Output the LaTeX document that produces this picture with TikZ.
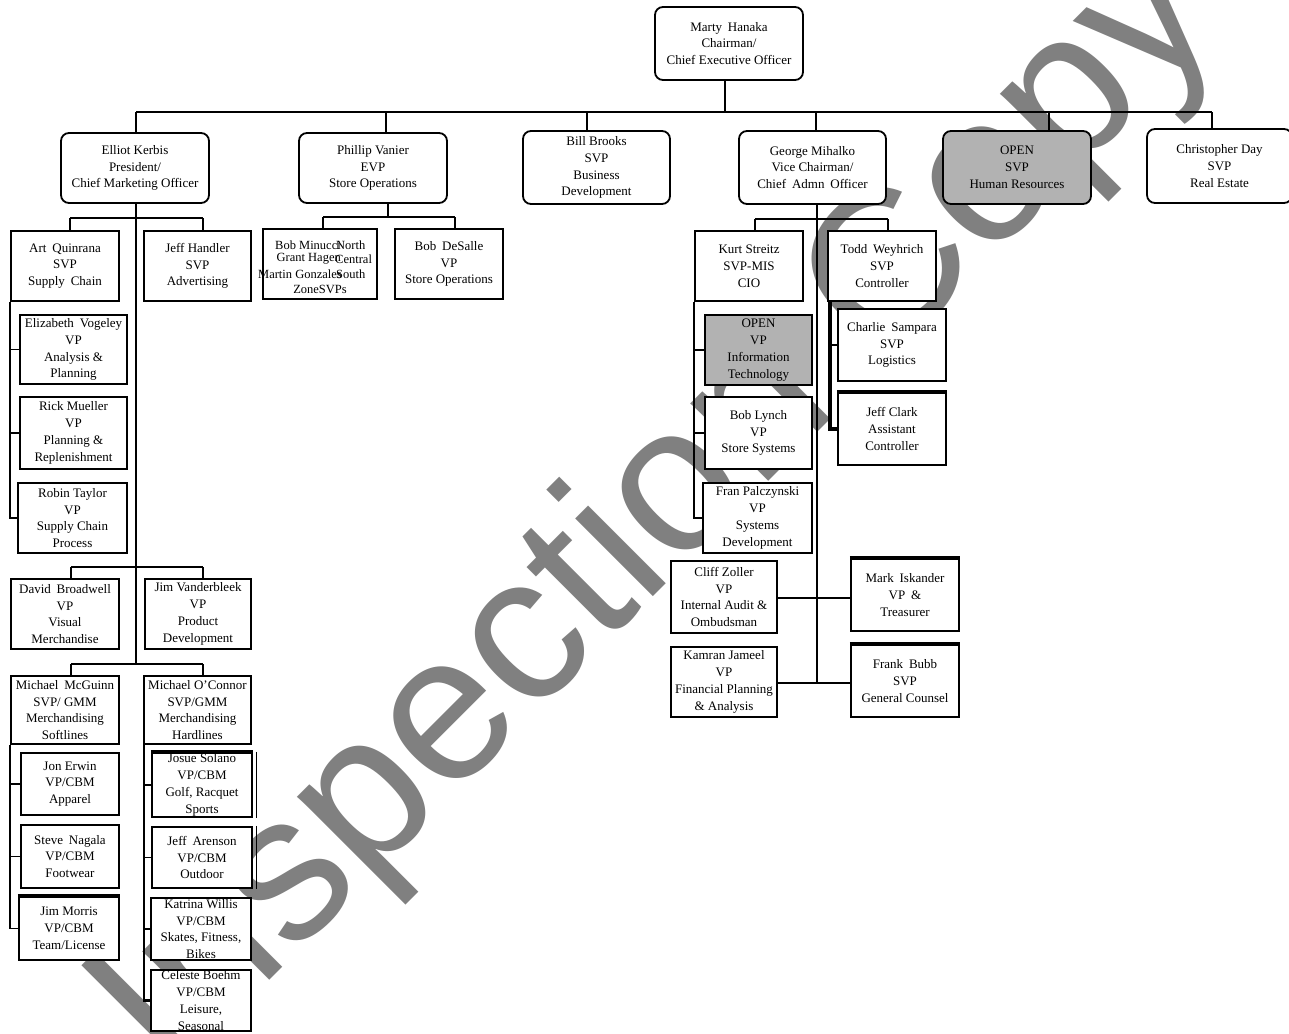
\documentclass[tikz,border=0pt]{standalone}
\usepackage{fontspec}
\setmainfont{Liberation Serif}
\newfontfamily\wmfamily{Liberation Sans}
\definecolor{wmgray}{RGB}{128,128,128}
\definecolor{boxgray}{RGB}{178,178,178}
\newcommand\dsp{\hskip0.45em\relax}
\begin{document}
\begin{tikzpicture}[x=1pt,y=-1pt,
  txt/.style={font=\fontsize{13}{16.8}\selectfont, align=center, inner sep=0pt},
  rbox/.style={txt, draw, line width=1.8pt, rounded corners=8pt, fill=white},
  sbox/.style={txt, draw, line width=2.2pt, fill=white},
  grayfill/.style={fill=boxgray},
  conn/.style={line width=1.6pt},
  thickconn/.style={line width=2.8pt},
  small/.style={font=\fontsize{12.5}{14.5}\selectfont, inner sep=0pt}]
\useasboundingbox (0,0) rectangle (1289,1033);
\fill[white] (0,0) rectangle (1289,1033);

% watermark
\node[rotate=45, text=wmgray, inner sep=0pt, font=\wmfamily\fontsize{208}{208}\selectfont] (wm) at (659,515) {Inspection Copy};

% ---------- nodes (boxes) ----------
\node[rbox, minimum width=148, minimum height=73] (marty) at (729,43.5) {Marty\dsp Hanaka\\Chairman/\\Chief Executive Officer};

\node[rbox, minimum width=148, minimum height=70, yshift=0pt] (elliot) at (135,168) {Elliot Kerbis\\President/\\Chief Marketing Officer};
\node[rbox, minimum width=148, minimum height=70] (vanier) at (373,168) {Phillip Vanier\\EVP\\Store Operations};
\node[rbox, minimum width=147, minimum height=73] (brooks) at (596.5,167.5) {Bill Brooks\\SVP\\Business\\Development};
\node[rbox, minimum width=147, minimum height=73] (mihalko) at (812.5,167.5) {George Mihalko\\Vice Chairman/\\Chief\dsp Admn\dsp Officer};
\node[rbox, grayfill, minimum width=148, minimum height=73] (openhr) at (1017,167.5) {OPEN\\SVP\\Human Resources};
\node[rbox, minimum width=145, minimum height=74] (chris) at (1219.5,166) {Christopher Day\\SVP\\Real Estate};

% ---------- connectors ----------
\coordinate (b0) at (725,112);
\coordinate (d1) at (136,112);
\coordinate (d2) at (386,112);
\coordinate (d3) at (587,112);
\coordinate (d4) at (816,112);
\coordinate (d5) at (1049,112);
\coordinate (d6) at (1212,112);
\draw[conn] (marty.south -| b0) -- (b0);
\draw[conn] (d1) -- (d6);
\draw[conn] (d1) -- (d1 |- elliot.north);
\draw[conn] (d2) -- (d2 |- vanier.north);
\draw[conn] (d3) -- (d3 |- brooks.north);
\draw[conn] (d4) -- (d4 |- mihalko.north);
\draw[conn] (d5) -- (d5 |- openhr.north);
\draw[conn] (d6) -- (d6 |- chris.north);

% Elliot subtree spine and buses
\coordinate (e1) at (136,218);
\coordinate (e1L) at (70,218);
\coordinate (e1R) at (203,218);
\coordinate (e2L) at (71,567);
\coordinate (e2R) at (203,567);
\coordinate (e3) at (136,664);
\coordinate (e3L) at (71,664);
\coordinate (e3R) at (203,664);
\draw[conn] (elliot.south -| e1) -- (e3);
\draw[conn] (e1L) -- (e1R);
\draw[conn] (e2L) -- (e2R);
\draw[conn] (e3L) -- (e3R);

% Vanier
\coordinate (v0) at (388,217);
\coordinate (vL) at (323,217);
\coordinate (vR) at (455,217);
\draw[conn] (vanier.south -| v0) -- (v0);
\draw[conn] (vL) -- (vR);

% Mihalko
\coordinate (m0) at (817,219);
\coordinate (mL) at (755,219);
\coordinate (mR) at (888,219);
\coordinate (m1) at (817,598);
\coordinate (m2) at (817,683);
\draw[conn] (mihalko.south -| m0) -- (m2);
\draw[conn] (mL) -- (mR);

% ---------- level 3 boxes ----------
\node[sbox, minimum width=108, minimum height=70] (art) at (65,266) {Art\dsp Quinrana\\SVP\\Supply\dsp Chain};
\node[sbox, minimum width=107, minimum height=70] (handler) at (197.5,266) {Jeff Handler\\SVP\\Advertising};
\node[sbox, minimum width=114, minimum height=70] (minucci) at (320,264) {};
\node[sbox, minimum width=108, minimum height=70] (desalle) at (449,264) {Bob\dsp DeSalle\\VP\\Store Operations};

\node[small, anchor=east] (mn1) at (341,245) {Bob Minucci};
\node[small, anchor=west] (mn2) at (336,245) {North};
\node[small, anchor=east] (mn3) at (341,259) {Grant Hagen};
\node[small, anchor=west] (mn4) at (335,259) {Central};
\node[small, anchor=east] (mn5) at (342,274) {Martin Gonzales};
\node[small, anchor=west] (mn6) at (336,274) {South};
\node[small] (mn7) at (320,289) {ZoneSVPs};

\draw[conn] (e1L) -- (e1L |- art.north);
\draw[conn] (e1R) -- (e1R |- handler.north);
\draw[conn] (vL) -- (vL |- minucci.north);
\draw[conn] (vR) -- (vR |- desalle.north);

\node[sbox, minimum width=107, minimum height=69] (eliz) at (73.5,349.5) {Elizabeth\dsp Vogeley\\VP\\Analysis \&\\Planning};
\node[sbox, minimum width=107, minimum height=72] (rick) at (73.5,433) {Rick Mueller\\VP\\Planning \&\\Replenishment};
\node[sbox, minimum width=109, minimum height=70] (robin) at (72.5,518) {Robin Taylor\\VP\\Supply Chain\\Process};
\draw[conn] (art.south west) -- (art.south west |- robin.west) -- (robin.west);
\draw[conn] (art.south west |- eliz.west) -- (eliz.west);
\draw[conn] (art.south west |- rick.west) -- (rick.west);

\node[sbox, minimum width=108, minimum height=70] (david) at (65,614) {David\dsp Broadwell\\VP\\Visual\\Merchandise};
\node[sbox, minimum width=106, minimum height=70] (vanderbleek) at (198,614) {Jim Vanderbleek\\VP\\Product\\Development};
\draw[conn] (e2L) -- (e2L |- david.north);
\draw[conn] (e2R) -- (e2R |- vanderbleek.north);

\node[sbox, minimum width=108, minimum height=68] (mcguinn) at (65,710) {Michael\dsp McGuinn\\SVP/ GMM\\Merchandising\\Softlines};
\node[sbox, minimum width=107, minimum height=68] (oconnor) at (197.5,710) {Michael O’Connor\\SVP/GMM\\Merchandising\\Hardlines};
\draw[conn] (e3L) -- (e3L |- mcguinn.north);
\draw[conn] (e3R) -- (e3R |- oconnor.north);

\node[sbox, minimum width=98, minimum height=62] (erwin) at (70,784) {Jon Erwin\\VP/CBM\\Apparel};
\node[sbox, minimum width=98, minimum height=63] (nagala) at (70,856.5) {Steve\dsp Nagala\\VP/CBM\\Footwear};
\node[sbox, minimum width=100, minimum height=63] (morris) at (69,928.5) {Jim Morris\\VP/CBM\\Team/License};
\draw[line width=3.6pt] (morris.north west) -- (morris.north east);
\draw[conn] (mcguinn.south west) -- (mcguinn.south west |- morris.west) -- (morris.west);
\draw[conn] (mcguinn.south west |- erwin.west) -- (erwin.west);
\draw[conn] (mcguinn.south west |- nagala.west) -- (nagala.west);

\node[sbox, minimum width=100, minimum height=64] (solano) at (202,785) {Josue Solano\\VP/CBM\\Golf, Racquet\\Sports};
\node[sbox, minimum width=100, minimum height=61] (arenson) at (202,857.5) {Jeff\dsp Arenson\\VP/CBM\\Outdoor};
\node[sbox, minimum width=100, minimum height=62] (willis) at (201,929) {Katrina Willis\\VP/CBM\\Skates, Fitness,\\Bikes};
\node[sbox, minimum width=100, minimum height=61] (boehm) at (201,1000.5) {Celeste Boehm\\VP/CBM\\Leisure,\\Seasonal};
\draw[line width=3.6pt] (solano.north west) -- (solano.north east);
\draw[line width=0.8pt] ([xshift=3pt]solano.north east) -- ([xshift=3pt]solano.south east);
\draw[line width=0.8pt] ([xshift=3pt]arenson.north east) -- ([xshift=3pt]arenson.south east);
\coordinate (oc0) at (144,727);
\draw[thickconn] (oc0) -- (oc0 |- boehm.west) -- (boehm.west);
\draw[conn] (oc0 |- solano.west) -- (solano.west);
\draw[conn] (oc0 |- arenson.west) -- (arenson.west);
\draw[conn] (oc0 |- willis.west) -- (willis.west);

% ---------- Mihalko subtree ----------
\node[sbox, minimum width=108, minimum height=70] (kurt) at (749,266) {Kurt Streitz\\SVP-MIS\\CIO};
\node[sbox, minimum width=108, minimum height=70] (todd) at (882,266) {Todd\dsp Weyhrich\\SVP\\Controller};
\draw[conn] (mL) -- (mL |- kurt.north);
\draw[conn] (mR) -- (mR |- todd.north);

\node[sbox, grayfill, minimum width=107, minimum height=70] (openit) at (758.5,350) {OPEN\\VP\\Information\\Technology};
\node[sbox, minimum width=107, minimum height=72] (lynch) at (758.5,433) {Bob Lynch\\VP\\Store Systems};
\node[sbox, minimum width=109, minimum height=70] (fran) at (757.5,518) {Fran Palczynski\\VP\\Systems\\Development};
\draw[line width=0.8pt] ([xshift=3pt]fran.north east) -- ([xshift=3pt]fran.south east);
\draw[thickconn] (kurt.south west) -- (kurt.south west |- fran.west) -- (fran.west);
\draw[thickconn] (kurt.south west |- openit.west) -- (openit.west);
\draw[thickconn] (kurt.south west |- lynch.west) -- (lynch.west);

\node[sbox, minimum width=108, minimum height=72] (charlie) at (892,345) {Charlie\dsp Sampara\\SVP\\Logistics};
\node[sbox, minimum width=108, minimum height=72] (clark) at (892,429) {Jeff Clark\\Assistant\\Controller};
\draw[line width=3.6pt] (clark.north west) -- (clark.north east);
\coordinate (t0) at (830,301);
\draw[line width=3.4pt] (t0) -- (t0 |- clark.west) -- (clark.west);
\draw[thickconn] (t0 |- charlie.west) -- (charlie.west);

\node[sbox, minimum width=106, minimum height=72] (cliff) at (724,597) {Cliff Zoller\\VP\\Internal Audit \&\\Ombudsman};
\node[sbox, minimum width=108, minimum height=72] (mark) at (905,595) {Mark\dsp Iskander\\VP\dsp \&\\Treasurer};
\node[sbox, minimum width=106, minimum height=70] (kamran) at (724,682) {Kamran Jameel\\VP\\Financial Planning\\\& Analysis};
\node[sbox, minimum width=108, minimum height=72] (frank) at (905,681) {Frank\dsp Bubb\\SVP\\General Counsel};
\draw[line width=3.6pt] (mark.north west) -- (mark.north east);
\draw[line width=3.6pt] (frank.north west) -- (frank.north east);
\draw[thickconn] (cliff.east |- m1) -- (m1);
\draw[conn] (m1) -- (m1 -| mark.west);
\draw[conn] (kamran.east |- m2) -- (m2 -| frank.west);
\end{tikzpicture}
\end{document}
